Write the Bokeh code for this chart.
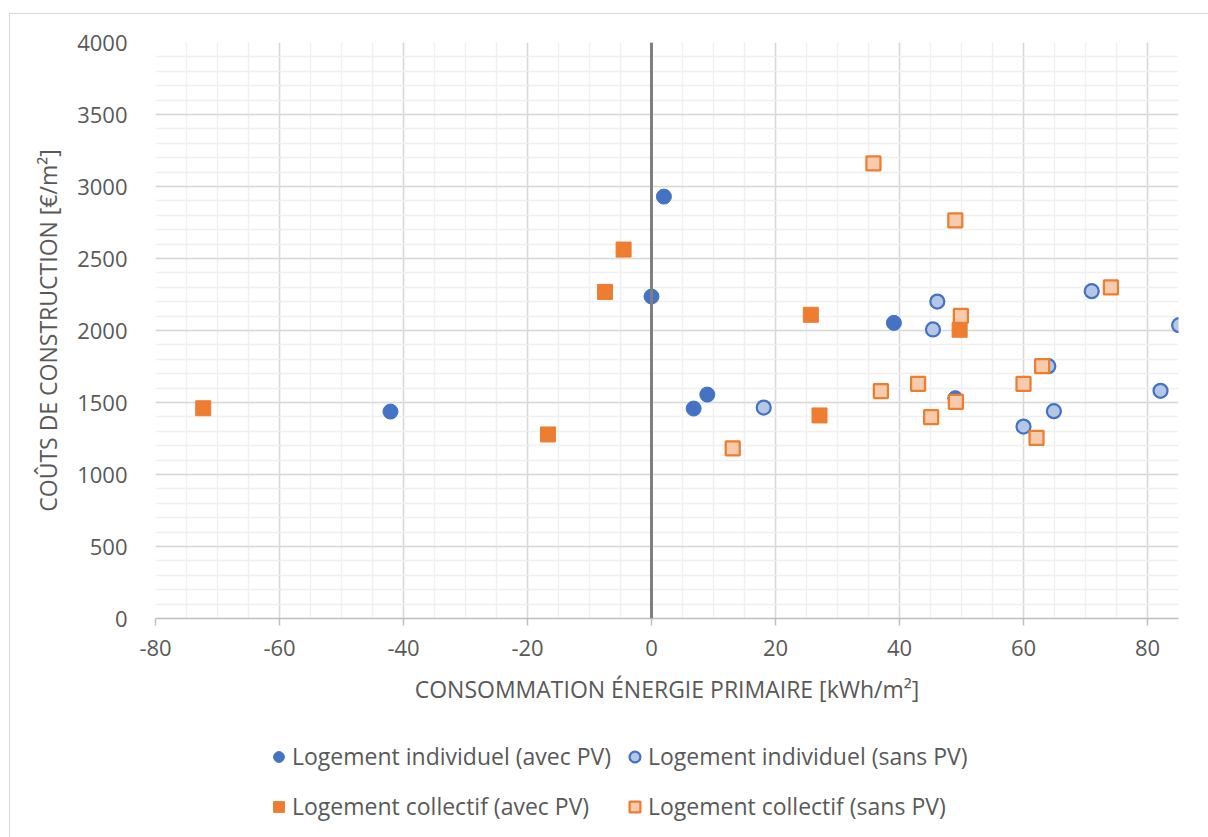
from bokeh.plotting import figure
from bokeh.models import Range1d, FixedTicker, Span, Legend, LegendItem
from bokeh.layouts import column
from bokeh.embed import file_html
from bokeh.resources import INLINE

# --- data ---
ind_avec_x = [-42.1, 0.0, 2.0, 6.8, 9.0, 39.1, 49.0]
ind_avec_y = [1437, 2236, 2930, 1458, 1555, 2053, 1530]

ind_sans_x = [18.1, 46.1, 45.4, 60.0, 64.9, 71.0, 85.1, 82.1, 64.0]
ind_sans_y = [1465, 2201, 2007, 1333, 1440, 2273, 2037, 1581, 1752]

col_avec_x = [-72.3, -16.7, -4.5, -7.5, 25.7, 27.1, 49.7]
col_avec_y = [1460, 1278, 2562, 2268, 2109, 1410, 2005]

col_sans_x = [13.1, 35.8, 49.0, 49.9, 74.1, 37.0, 43.0, 45.1, 49.1, 60.0, 63.0, 62.1]
col_sans_y = [1181, 3160, 2764, 2101, 2299, 1579, 1630, 1398, 1505, 1630, 1752, 1255]

x_ticks = [-80, -60, -40, -20, 0, 20, 40, 60, 80]
y_ticks = [0, 500, 1000, 1500, 2000, 2500, 3000, 3500, 4000]

series_names = ["Logement individuel (avec PV)", "Logement individuel (sans PV)",
                "Logement collectif (avec PV)", "Logement collectif (sans PV)"]

FONT = "Open Sans"
TXT = "#595959"

styles = [
    dict(marker="circle", size=15, fill_color="#4472c4", line_color="#4472c4", line_width=1),
    dict(marker="circle", size=14, fill_color="#b4c7e7", line_color="#4472c4", line_width=2.25),
    dict(marker="square", size=15, fill_color="#ed7d31", line_color="#ed7d31", line_width=1),
    dict(marker="square", size=14, fill_color="#f8cbad", line_color="#ed7d31", line_width=2.25),
]

p = figure(frame_width=1023, frame_height=576, output_backend="svg", toolbar_location=None,
           x_range=Range1d(-80, 85), y_range=Range1d(0, 4000),
           min_border_left=145, min_border_right=31, min_border_top=28, min_border_bottom=101)
p.background_fill_color = "white"
p.border_fill_color = "white"
p.outline_line_color = None

# grids
p.xgrid.ticker = FixedTicker(ticks=x_ticks, minor_ticks=list(range(-80, 86, 5)))
p.ygrid.ticker = FixedTicker(ticks=y_ticks, minor_ticks=list(range(0, 4001, 100)))
for g in (p.xgrid, p.ygrid):
    g.grid_line_color = "#d9d9d9"
    g.grid_line_width = 1.5
    g.minor_grid_line_color = "#f0f0f0"
    g.minor_grid_line_width = 1.5

# x axis
xa = p.xaxis[0]
xa.ticker = FixedTicker(ticks=x_ticks)
xa.major_label_overrides = {t: str(t) for t in x_ticks}
xa.axis_line_color = "#bfbfbf"
xa.axis_line_width = 1.5
xa.major_tick_line_color = "#bfbfbf"
xa.major_tick_line_width = 1.5
xa.major_tick_out = 7
xa.major_tick_in = 0
xa.minor_tick_line_color = None
xa.major_label_text_font = FONT
xa.major_label_text_font_size = "22px"
xa.major_label_text_color = TXT
xa.major_label_standoff = 14
xa.axis_label = "CONSOMMATION ÉNERGIE PRIMAIRE [kWh/m²]"
xa.axis_label_text_font = FONT
xa.axis_label_text_font_size = "23px"
xa.axis_label_text_font_style = "normal"
xa.axis_label_text_color = TXT
xa.axis_label_standoff = 14

# y axis
ya = p.yaxis[0]
ya.ticker = FixedTicker(ticks=y_ticks)
ya.axis_line_color = None
ya.major_tick_line_color = None
ya.minor_tick_line_color = None
ya.major_label_text_font = FONT
ya.major_label_text_font_size = "22px"
ya.major_label_text_color = TXT
ya.major_label_standoff = 22
ya.axis_label = "COÛTS DE CONSTRUCTION [€/m²]"
ya.axis_label_text_font = FONT
ya.axis_label_text_font_size = "23px"
ya.axis_label_text_font_style = "normal"
ya.axis_label_text_color = TXT
ya.axis_label_standoff = 10

# vertical axis line at x = 0
p.add_layout(Span(location=0, dimension="height", line_color="#7f7f7f", line_width=3))

xs = [ind_avec_x, ind_sans_x, col_avec_x, col_sans_x]
ys = [ind_avec_y, ind_sans_y, col_avec_y, col_sans_y]
for x, y, st in zip(xs, ys, styles):
    p.scatter(x, y, **st)

# legend figure (below the chart); its ranges hide the series, only the legend shows
lg = figure(width=1199, height=119, output_backend="svg", toolbar_location=None,
            x_range=Range1d(0, 1), y_range=Range1d(0, 1),
            x_axis_location=None, y_axis_location=None,
            min_border_left=0, min_border_right=0, min_border_top=0, min_border_bottom=0)
lg.outline_line_color = None
lg.xgrid.visible = False
lg.ygrid.visible = False
lg.background_fill_color = "white"
lg.border_fill_color = "white"
lrs = [lg.scatter(x, y, **st) for x, y, st in zip(xs, ys, styles)]
legend = Legend(items=[LegendItem(label=series_names[i], renderers=[r])
                       for i, r in enumerate(lrs)],
                orientation="horizontal", ncols=2, location=(110, 12),
                label_text_font=FONT, label_text_font_size="23px", label_text_color=TXT,
                glyph_width=27, glyph_height=27, label_standoff=0, spacing=10,
                label_height=40, padding=0, margin=0, border_line_color=None,
                background_fill_alpha=0)
lg.add_layout(legend, "center")

layout = column(p, lg, spacing=0)
layout.margin = (13, 0, 0, 9)
layout.styles = {"border-left": "1.5px solid #d9d9d9", "border-top": "1.5px solid #d9d9d9"}

open("out.html", "w").write(file_html(layout, INLINE))
